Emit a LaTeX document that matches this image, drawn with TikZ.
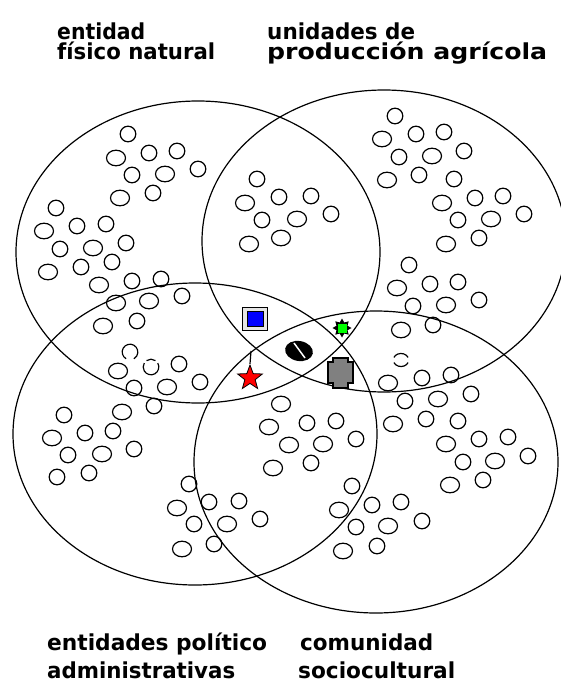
\documentclass[tikz,border=0pt]{standalone}
\usepackage{fontspec}
\newfontfamily\lbl{DejaVu Sans Condensed}
\usetikzlibrary{shapes.geometric,calc}
\definecolor{pureblue}{RGB}{0,0,255}
\definecolor{purered}{RGB}{255,0,0}
\definecolor{puregreen}{RGB}{0,255,0}
\definecolor{midgray}{RGB}{128,128,128}
% stretch a line of text to a given width, keeping its height
\newcommand\fitw[2]{\resizebox{#1}{\height}{#2}}
\tikzset{
  setline/.style={line width=1.2pt},
  spotline/.style={line width=1.2pt},
  label/.style={anchor=base west, inner sep=0pt, font=\lbl\bfseries\fontsize{22}{22}\selectfont},
}
\begin{document}
\begin{tikzpicture}[x=1pt,y=-1pt]
  \fill[white] (0,0) rectangle (561,690);
  \useasboundingbox (0,0) rectangle (561,690);
  \clip (0,0) rectangle (561,690);

  % the four overlapping domains
  \draw[setline] (198,252) ellipse [x radius=182, y radius=151];
  \draw[setline] (384,241) ellipse [x radius=182, y radius=151];
  \draw[setline] (195,434) ellipse [x radius=182, y radius=151];
  \draw[setline] (376,462) ellipse [x radius=182, y radius=151];

  % round elements
  \foreach \x/\y in {
    128/134, 149/153, 177/151, 132/175, 198/169, 153/193, 56/208, 77/226,
    106/224, 60/249, 126/243, 112/262, 81/267, 132/281, 161/279,
    257/179, 262/220, 279/197, 311/196, 331/214,
    395/116, 416/134, 444/132, 399/157, 464/151, 419/175, 454/179,
    475/198, 503/196, 458/220, 524/214, 479/238, 409/265, 430/284,
    458/282, 479/300, 413/306, 433/325,
    422/378, 451/375, 471/394, 405/401, 426/419, 458/421, 479/439,
    508/437, 463/462, 528/456, 483/480,
    307/423, 336/421, 356/439, 311/463,
    182/296, 137/321, 179/364, 134/388, 200/382, 154/406,
    64/415, 85/433, 113/431, 68/455, 134/449, 57/477, 89/473,
    189/484, 209/502, 239/501, 194/524, 260/519, 214/544,
    352/486, 372/505, 401/502, 356/527, 422/521, 377/546}
    \draw[spotline] (\x,\y) circle [radius=7.8];
  \foreach \x/\y in {
    116/158, 165/174, 120/198, 44/231, 93/248, 48/272, 99/285,
    245/203, 249/244, 281/238, 297/219,
    382/139, 432/156, 387/180, 442/203, 491/219, 446/244, 397/288,
    446/305, 401/330,
    388/383, 438/399, 393/424, 446/444, 495/461, 450/485,
    281/404, 269/427, 289/445, 323/444, 273/468,
    116/303, 149/301, 103/326, 118/371, 167/387,
    122/412, 52/438, 102/454,
    177/508, 227/524, 182/549, 339/510, 388/526, 343/551}
    \draw[spotline] (\x,\y) ellipse [x radius=9.5, y radius=7.8];

  % broken round elements
  \draw[spotline] (130,352) ++(120:7.8) arc [start angle=120, end angle=420, radius=7.8];
  \draw[spotline] (151,367) ++(235:7.8) arc [start angle=235, end angle=305, radius=7.8];
  \draw[spotline] (151,367) ++(330:7.8) arc [start angle=330, end angle=570, radius=7.8];
  \draw[spotline] (401,360) ++(200:7.5) arc [start angle=200, end angle=340, x radius=7.5, y radius=6];
  \draw[spotline] (401,360) ++(20:7.5) arc [start angle=20, end angle=160, x radius=7.5, y radius=6];

  % markers in the central overlap
  \node (sq) [draw, line width=1.2pt, fill=gray!20, minimum width=25pt, minimum height=23pt, inner sep=0pt] at (255,319) {};
  \node (sqin) [draw, line width=1pt, fill=pureblue, minimum width=16pt, minimum height=15pt, inner sep=0pt] at (255,319) {};
  \node (st) [star, star points=5, star point ratio=2.4, draw, line width=0.8pt, fill=purered, minimum size=26pt, inner sep=0pt] at (250,378) {};
  \coordinate (stx) at (251,351);
  \draw[line width=1.2pt] (stx) -- (st.north);
  \node (sun) [star, star points=8, star point ratio=1.6, fill=black, minimum size=19pt, inner sep=0pt] at (342,328) {};
  \node (sunin) [fill=puregreen, minimum size=9pt, inner sep=0pt] at (342,328) {};
  \node (bean) [ellipse, fill=black, minimum width=28pt, minimum height=20pt, inner sep=0pt, rotate=-10] at (299,351) {};
  \draw[white, line width=1.5pt] ($(bean.center)+(-5,-8)$) -- ($(bean.center)+(6,7)$);
  \draw[line width=1.2pt, fill=midgray]
    (333,358) -- (348,358) -- (348,362) -- (353,362) -- (353,383) -- (348,383)
    -- (348,388) -- (333,388) -- (333,383) -- (328,383) -- (328,362) -- (333,362) -- cycle;

  % domain names
  \node (t1a) [label] at (57,40) {\fitw{88pt}{entidad}};
  \node (t1b) [label] at (57,60) {\fitw{158pt}{físico natural}};
  \node (t2a) [label] at (267,40) {\fitw{148pt}{unidades de}};
  \node (t2b) [label] at (267,60) {\fitw{280pt}{producción agrícola}};
  \node (t3a) [label] at (47,650) {\fitw{220pt}{entidades político}};
  \node (t3b) [label] at (47,678) {\fitw{188pt}{administrativas}};
  \node (t4a) [label] at (300,650) {\fitw{133pt}{comunidad}};
  \node (t4b) [label] at (298,678) {\fitw{157pt}{sociocultural}};
\end{tikzpicture}
\end{document}
